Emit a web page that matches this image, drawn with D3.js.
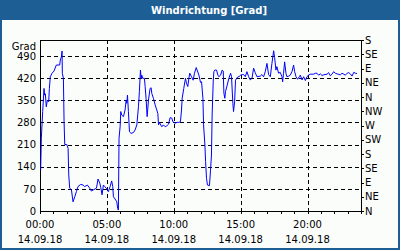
<!DOCTYPE html>
<html>
<head>
<meta charset="utf-8">
<script src="https://cdn.jsdelivr.net/npm/d3@7"></script>
<style>
  body { margin: 0; background: #fff; }
  text { font-family: "DejaVu Sans", sans-serif; }
</style>
</head>
<body>
<div id="chart"></div>
<script>
// Chart dimensions
const width = 400;
const height = 250;
const margin = { top: 40, right: 39, bottom: 39, left: 40 };

// Data: hours since 14.09.18 00:00 and wind direction in degrees
const hours = [0.05, 0.10, 0.2, 0.3, 0.35, 0.4, 0.47, 0.55, 0.65, 0.7, 0.77, 0.9, 1.05, 1.22, 1.47, 1.52, 1.6, 1.65, 1.67, 1.75,
  1.8, 1.85, 2.0, 2.1, 2.15, 2.22, 2.35, 2.47, 2.6, 2.72, 2.84, 3.04, 3.22, 3.34, 3.54, 3.72, 3.84, 4.04, 4.22, 4.34,
  4.47, 4.54, 4.64, 4.74, 4.84, 4.99, 5.11, 5.24, 5.36, 5.44, 5.49, 5.61, 5.74, 5.81, 5.86, 5.91, 5.99, 6.04, 6.11, 6.24,
  6.36, 6.44, 6.49, 6.54, 6.61, 6.69, 6.81, 6.99, 7.11, 7.24, 7.36, 7.43, 7.51, 7.56, 7.61, 7.68, 7.81, 7.86, 7.93, 8.01,
  8.11, 8.23, 8.31, 8.36, 8.48, 8.61, 8.73, 8.81, 8.86, 8.93, 9.11, 9.23, 9.36, 9.48, 9.61, 9.73, 9.86, 9.93, 10.1, 10.25,
  10.38, 10.5, 10.58, 10.63, 10.75, 10.83, 10.88, 10.95, 11.05, 11.13, 11.2, 11.33, 11.45, 11.55, 11.68, 11.75, 11.88, 12.0, 12.08, 12.18,
  12.23, 12.33, 12.38, 12.45, 12.52, 12.67, 12.75, 12.82, 12.87, 12.95, 13.0, 13.07, 13.2, 13.3, 13.37, 13.5, 13.62, 13.7, 13.75, 13.82,
  13.87, 14.0, 14.12, 14.25, 14.32, 14.42, 14.47, 14.55, 14.62, 14.7, 14.8, 14.87, 15.0, 15.12, 15.22, 15.35, 15.47, 15.6, 15.72, 15.85,
  15.97, 16.09, 16.22, 16.47, 16.59, 16.72, 16.84, 16.97, 17.09, 17.22, 17.34, 17.47, 17.54, 17.64, 17.71, 17.84, 17.96, 18.09, 18.14, 18.21,
  18.29, 18.39, 18.46, 18.59, 18.71, 18.84, 18.96, 19.04, 19.14, 19.26, 19.39, 19.46, 19.59, 19.71, 19.84, 19.96, 20.08, 20.21, 20.46, 20.58,
  20.71, 20.83, 20.96, 21.08, 21.21, 21.46, 21.58, 21.71, 21.83, 21.96, 22.08, 22.21, 22.46, 22.58, 22.71, 22.83, 22.96, 23.08, 23.2, 23.33,
  23.46, 23.58, 23.7];
const degrees = [130, 230, 314, 387, 366, 370, 329, 350, 345, 387, 424, 435, 442, 461, 461, 477, 487, 505, 435, 419,
  282, 210, 210, 198, 114, 72, 67, 29, 45, 61, 77, 84, 82, 77, 82, 72, 63, 68, 72, 101,
  88, 75, 51, 82, 77, 70, 61, 77, 95, 77, 45, 38, 29, 8, 3, 230, 266, 314, 303, 298,
  319, 350, 340, 366, 314, 250, 245, 248, 256, 272, 329, 377, 445, 419, 429, 419, 419, 393, 356, 298,
  350, 387, 389, 371, 356, 335, 319, 308, 272, 279, 266, 272, 266, 269, 274, 295, 293, 282, 277, 280,
  280, 282, 319, 356, 387, 408, 419, 403, 393, 419, 435, 424, 413, 435, 453, 445, 429, 406, 408, 356,
  272, 208, 156, 103, 82, 80, 129, 177, 303, 408, 440, 445, 445, 429, 424, 429, 445, 442, 372, 356,
  377, 398, 419, 435, 424, 340, 314, 345, 413, 419, 424, 424, 429, 431, 431, 424, 440, 424, 414, 419,
  451, 437, 424, 426, 431, 424, 440, 466, 431, 424, 466, 506, 485, 445, 456, 435, 438, 424, 408, 435,
  471, 435, 424, 426, 429, 440, 461, 440, 424, 416, 424, 429, 414, 424, 412, 424, 429, 432, 432, 435,
  435, 429, 433, 428, 430, 432, 437, 427, 432, 440, 435, 433, 430, 435, 432, 429, 435, 437, 433, 426,
  438, 435, 434];

// Axis labels
const leftTicks = [0, 70, 140, 210, 280, 350, 420, 490];
const rightTicks = [0, 45, 90, 135, 180, 225, 270, 315, 360, 405, 450, 495, 540];
const rightLabels = ["N", "NE", "E", "SE", "S", "SW", "W", "NW", "N", "NE", "E", "SE", "S"];
const timeTicks = [0, 5, 10, 15, 20];
const timeLabels = ["00:00", "05:00", "10:00", "15:00", "20:00"];
const dateLabel = "14.09.18";

const svg = d3.select("#chart").append("svg")
    .attr("width", width)
    .attr("height", height);

// Background and frame
svg.append("rect")
    .attr("width", width)
    .attr("height", height)
    .attr("fill", "#fbfdfb");

svg.append("rect")
    .attr("x", 1)
    .attr("y", 1)
    .attr("width", width - 2)
    .attr("height", height - 2)
    .attr("fill", "none")
    .attr("stroke", "#1d5f95")
    .attr("stroke-width", 2);

// Title bar
svg.append("rect")
    .attr("width", width)
    .attr("height", 20)
    .attr("fill", "#1d5f95");

svg.append("text")
    .attr("x", 209)
    .attr("y", 14)
    .attr("text-anchor", "middle")
    .attr("font-size", "10px")
    .attr("font-weight", "bold")
    .attr("fill", "white")
    .text("Windrichtung [Grad]");

// Scales
const x = d3.scaleLinear()
    .domain([0, 24])
    .range([margin.left, width - margin.right]);

const y = d3.scaleLinear()
    .domain([0, 540])
    .range([height - margin.bottom, margin.top]);

// Grid lines
const grid = svg.append("g")
    .attr("stroke", "black")
    .attr("stroke-dasharray", "4,3")
    .attr("shape-rendering", "crispEdges");

grid.selectAll(".hgrid")
    .data(leftTicks.filter(d => d > 0))
    .join("line")
    .attr("x1", x(0))
    .attr("x2", x(24))
    .attr("y1", d => Math.round(y(d)) + 0.5)
    .attr("y2", d => Math.round(y(d)) + 0.5);

grid.selectAll(".vgrid")
    .data(timeTicks.filter(d => d > 0))
    .join("line")
    .attr("x1", d => Math.round(x(d)) + 0.5)
    .attr("x2", d => Math.round(x(d)) + 0.5)
    .attr("y1", y(540))
    .attr("y2", y(0));

// Left axis
const leftAxis = svg.append("g")
    .attr("transform", `translate(${x(0)},0)`)
    .call(d3.axisLeft(y).tickValues(leftTicks).tickSize(0).tickPadding(4));

// Right axis (compass directions)
const rightAxis = svg.append("g")
    .attr("transform", `translate(${x(24)},0)`)
    .call(d3.axisRight(y).tickValues(rightTicks).tickSize(3).tickPadding(1)
        .tickFormat((d, i) => rightLabels[i]));

// Bottom axis with hourly ticks
const bottomAxis = svg.append("g")
    .attr("transform", `translate(0,${y(0)})`)
    .call(d3.axisBottom(x).tickValues(d3.range(0, 25)).tickSize(3).tickFormat(""));

[leftAxis, rightAxis, bottomAxis].forEach(g => {
    g.attr("shape-rendering", "crispEdges");
    g.select(".domain").remove();
    g.selectAll("text")
        .attr("font-family", "DejaVu Sans, sans-serif")
        .attr("font-size", "10px")
        .attr("fill", "black");
});

// Frame around the plot
svg.append("rect")
    .attr("x", x(0) + 0.5)
    .attr("y", y(540) + 0.5)
    .attr("width", x(24) - x(0))
    .attr("height", y(0) - y(540))
    .attr("fill", "none")
    .attr("stroke", "black")
    .attr("shape-rendering", "crispEdges");

svg.append("text")
    .attr("x", x(0) - 4)
    .attr("y", 50)
    .attr("text-anchor", "end")
    .attr("font-size", "10px")
    .text("Grad");

// Time labels
const timeGroup = svg.append("g")
    .attr("font-size", "10px")
    .attr("text-anchor", "middle");

timeGroup.selectAll(".time")
    .data(timeTicks)
    .join("text")
    .attr("x", d => x(d))
    .attr("y", 228)
    .text((d, i) => timeLabels[i]);

timeGroup.selectAll(".date")
    .data(timeTicks)
    .join("text")
    .attr("x", d => x(d))
    .attr("y", 243)
    .text(dateLabel);

// Wind direction line
const points = hours.map((h, i) => [h, degrees[i]]);

svg.append("path")
    .datum(points)
    .attr("fill", "none")
    .attr("stroke", "#0000ff")
    .attr("stroke-width", 1)
    .attr("d", d3.line().x(d => x(d[0])).y(d => y(d[1])));
</script>
</body>
</html>
